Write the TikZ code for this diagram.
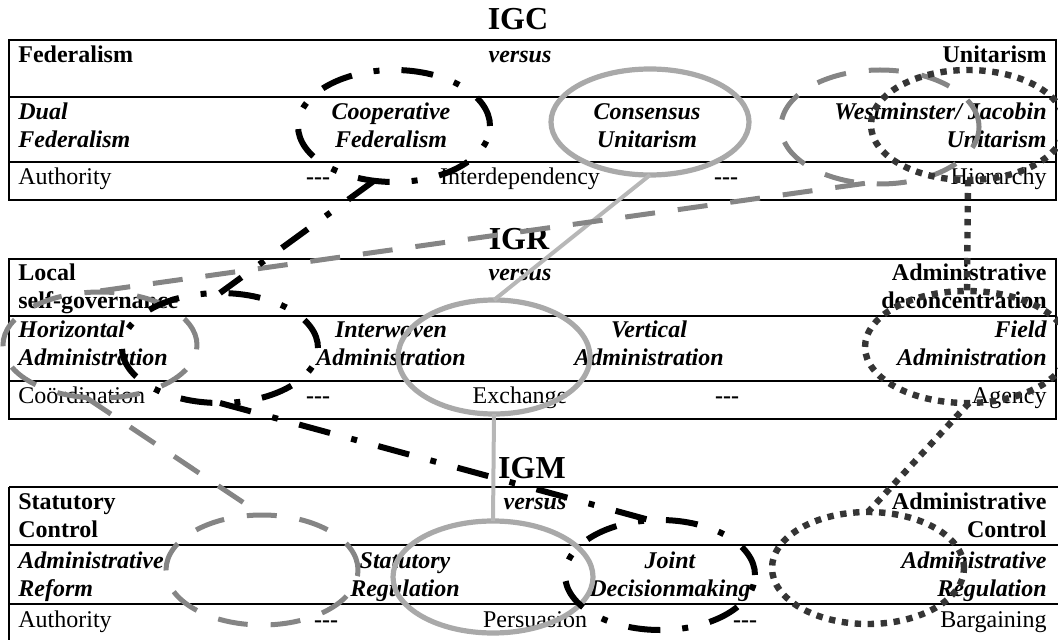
\documentclass[tikz,border=0pt]{standalone}
\usepackage{fontspec}
\setmainfont{Liberation Serif}
\usepackage{xcolor}
\usepackage{tikz}
\usetikzlibrary{shapes.geometric}
\definecolor{dashgray}{HTML}{858585}
\definecolor{dotgray}{HTML}{353535}
\definecolor{hatchgray}{HTML}{A9A9A9}
\definecolor{linkgray}{HTML}{B7B7B7}
\newcommand{\tabfont}{\fontsize{12}{14}\selectfont}
\newcommand{\tripdash}{-\kern0pt-\kern0pt-}

\tikzset{
  rule/.style={line width=1pt},
  thinrule/.style={line width=0.6pt},
  titletxt/.style={font=\fontsize{16}{19}\selectfont\bfseries, anchor=base, inner sep=0pt},
  headtxt/.style={font=\tabfont\bfseries, anchor=base, inner sep=0pt},
  termtxt/.style={font=\tabfont\bfseries\itshape, anchor=base, inner sep=0pt},
  plaintxt/.style={font=\tabfont, anchor=base, inner sep=0pt},
  ring/.style={ellipse, draw, inner sep=0pt, outer sep=0pt},
  dashdotpen/.style={black, line width=3pt, dash pattern=on 16pt off 11pt on 3pt off 11pt},
  graydashpen/.style={dashgray, line width=2.5pt, dash pattern=on 15pt off 11.5pt},
  dotpen/.style={dotgray, line width=3.2pt, dash pattern=on 3.2pt off 3.3pt},
  hatchpen/.style={hatchgray, line width=2.6pt},
  linkpen/.style={linkgray, line width=2pt}
}

\begin{document}
\begin{tikzpicture}[x=0.5pt, y=-0.5pt]
  \useasboundingbox (0,0) rectangle (1058,640);

  % table frames (IGC, IGR)
  \foreach \ya/\yb/\yc/\yd in {40/97/162/200, 259/316/381/419} {
    \draw[rule] (9,\ya) rectangle (1056,\yd);
    \draw[rule] (9,\yb) -- (1056,\yb);
    \draw[rule] (9,\yc) -- (1056,\yc);
  }
  % IGM frame runs off the page
  \draw[thinrule] (9,487) -- (1058,487);
  \draw[rule] (9,545) -- (1058,545);
  \draw[rule] (9,604) -- (1058,604);
  \draw[rule] (9,487) -- (9,640);

  % IGC (two-line nodes sit on their last baseline)
  \node[titletxt] (igc) at (518,30) {IGC};
  \node[headtxt, anchor=base west] (fed) at (18,63) {Federalism};
  \node[termtxt] (vs1) at (520,63) {versus};
  \node[headtxt, anchor=base east] (uni) at (1047,63) {Unitarism};
  \node[termtxt, anchor=base west, align=left] (dual) at (18,148) {Dual\\Federalism};
  \node[termtxt, align=center] (coopt) at (391,148) {Cooperative\\Federalism};
  \node[termtxt, align=center] (const) at (647,148) {Consensus\\Unitarism};
  \node[termtxt, anchor=base east, align=right] (westt) at (1047,148) {Westminster/ Jacobin\\Unitarism};
  \node[plaintxt, anchor=base west] (auth1) at (18,185) {Authority};
  \node[headtxt] (da1) at (318,185) {\tripdash};
  \node[plaintxt] (interd) at (520,185) {Interdependency};
  \node[headtxt] (db1) at (726,185) {\tripdash};
  \node[plaintxt, anchor=base east] (hier) at (1047,185) {Hierarchy};

  % IGR
  \node[titletxt] (igr) at (519,250) {IGR};
  \node[headtxt, anchor=base west, align=left] (local) at (18,309) {Local\\self-governance};
  \node[termtxt] (vs2) at (520,281) {versus};
  \node[headtxt, anchor=base east, align=right] (decon) at (1047,309) {Administrative\\deconcentration};
  \node[termtxt, anchor=base west, align=left] (hort) at (18,366) {Horizontal\\Administration};
  \node[termtxt, align=center] (intt) at (391,366) {Interwoven\\Administration};
  \node[termtxt, align=center] (vert) at (649,366) {Vertical\\Administration};
  \node[termtxt, anchor=base east, align=right] (fieldt) at (1047,366) {Field\\Administration};
  \node[plaintxt, anchor=base west] (coord) at (18,403) {Coördination};
  \node[headtxt] (da2) at (318,403) {\tripdash};
  \node[plaintxt] (exch) at (520,403) {Exchange};
  \node[headtxt] (db2) at (727,403) {\tripdash};
  \node[plaintxt, anchor=base east] (agency) at (1047,403) {Agency};

  % IGM
  \node[titletxt] (igm) at (532,478) {IGM};
  \node[headtxt, anchor=base west, align=left] (statc) at (18,537) {Statutory\\Control};
  \node[termtxt] (vs3) at (535,509) {versus};
  \node[headtxt, anchor=base east, align=right] (admc) at (1047,537) {Administrative\\Control};
  \node[termtxt, anchor=base west, align=left] (reft) at (18,596) {Administrative\\Reform};
  \node[termtxt, align=center] (statr) at (405,596) {Statutory\\Regulation};
  \node[termtxt, align=center] (jointt) at (670,596) {Joint\\Decisionmaking};
  \node[termtxt, anchor=base east, align=right] (admr) at (1047,596) {Administrative\\Regulation};
  \node[plaintxt, anchor=base west] (auth3) at (18,627) {Authority};
  \node[headtxt] (da3) at (326,627) {\tripdash};
  \node[plaintxt] (pers) at (535,627) {Persuasion};
  \node[headtxt] (db3) at (745,627) {\tripdash};
  \node[plaintxt, anchor=base east] (barg) at (1047,627) {Bargaining};

  % hatched gray rings
  \node[ring, hatchpen, minimum width=99pt, minimum height=53pt] (cons) at (650,122) {};
  \node[ring, hatchpen, minimum width=96pt, minimum height=57pt] (igrhatch) at (494,357) {};
  \node[ring, hatchpen, minimum width=100pt, minimum height=56pt] (igmhatch) at (493,577) {};
  \draw[linkpen] (cons.south) -- (igrhatch.north);
  \draw[linkpen] (igrhatch.south) -- (igmhatch.north);

  % dashed gray rings
  \node[ring, graydashpen, minimum width=99pt, minimum height=57pt] (west) at (880,127) {};
  \node[ring, graydashpen, minimum width=97pt, minimum height=53pt] (horiz) at (100,345) {};
  \node[ring, graydashpen, minimum width=96pt, minimum height=55pt] (reform) at (262,570) {};
  \draw[graydashpen] (west.255) -- (horiz.100);
  \draw[graydashpen] (horiz.255) -- (reform.north);

  % dotted rings
  \node[ring, dotpen, minimum width=97pt, minimum height=55pt] (jacob) at (968,125) {};
  \node[ring, dotpen, minimum width=102pt, minimum height=56pt] (field) at (967,347) {};
  \node[ring, dotpen, minimum width=96pt, minimum height=56pt] (admreg) at (868,568) {};
  \draw[dotpen] (jacob.south) -- (field.north);
  \draw[dotpen] (field.272) -- (admreg.north);

  % dash-dot rings
  \node[ring, dashdotpen, minimum width=96pt, minimum height=56pt] (coop) at (394,126) {};
  \node[ring, dashdotpen, minimum width=98pt, minimum height=55pt] (interw) at (220,348) {};
  \node[ring, dashdotpen, minimum width=95pt, minimum height=55pt] (joint) at (660,575) {};
  \draw[dashdotpen] (coop.250) -- (interw.north);
  \draw[dashdotpen] (interw.south) -- (joint.100);
\end{tikzpicture}
\end{document}
